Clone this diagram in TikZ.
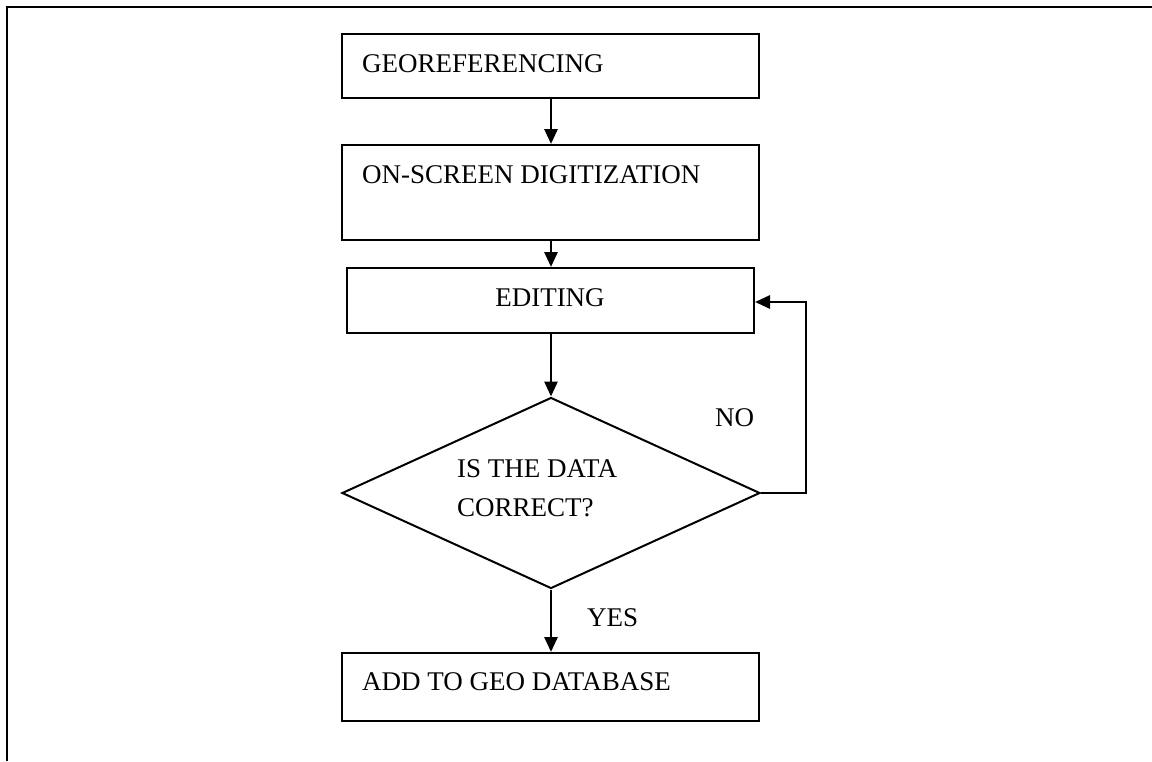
\documentclass[tikz,border=0pt]{standalone}
\usepackage{fontspec}
\setmainfont{Liberation Serif}
\usetikzlibrary{arrows.meta,shapes.geometric}
\begin{document}
\begin{tikzpicture}[x=1pt,y=-1pt,
  box/.style={draw=black,line width=2pt,rectangle,inner sep=0pt},
  lbl/.style={inner sep=0pt,font=\fontsize{27}{31}\selectfont},
  conn/.style={line width=2.8pt,-{Triangle[length=15pt,width=13pt]}},
  frame/.style={line width=2.2pt}]
\useasboundingbox (0,0) rectangle (1152,761);
\coordinate (ftop) at (1152,7);
\coordinate (fcorner) at (7,7);
\coordinate (fbot) at (7,761);
\draw[frame] (ftop) -- (fcorner) -- (fbot);

\node[box,minimum width=417pt,minimum height=64pt] (b1) at (550.5,66) {};
\node[lbl,anchor=base west] (t1) at (362,72) {GEOREFERENCING};

\node[box,minimum width=417pt,minimum height=95pt] (b2) at (550.5,192.5) {};
\node[lbl,anchor=base west] (t2) at (362,183) {ON-SCREEN DIGITIZATION};

\node[box,minimum width=407pt,minimum height=65pt] (b3) at (550.5,300.5) {};
\node[lbl,anchor=base] (t3) at (550,306) {EDITING};

\node[draw=black,line width=2pt,diamond,minimum width=418pt,minimum height=191pt,inner sep=0pt] (d) at (551,493) {};
\node[lbl,anchor=base west] (dt1) at (457,477) {IS THE DATA};
\node[lbl,anchor=base west] (dt2) at (457,516) {CORRECT?};

\node[box,minimum width=417pt,minimum height=68pt] (b4) at (550.5,687) {};
\node[lbl,anchor=base west] (t4) at (362,690) {ADD TO GEO DATABASE};

\node[lbl,anchor=base west] (no) at (715,426) {NO};
\node[lbl,anchor=base west] (yes) at (587,626) {YES};

\draw[conn] (b1.south -| d.north) -- (b2.north -| d.north);
\draw[conn] (b2.south -| d.north) -- (b3.north -| d.north);
\draw[conn] (b3.south -| d.north) -- (d.north);
\draw[conn] (d.south) -- (b4.north -| d.south);
\coordinate (fb) at (806,302);
\draw[conn] (d.east) -| (fb) -- (fb -| b3.east);
\end{tikzpicture}
\end{document}
